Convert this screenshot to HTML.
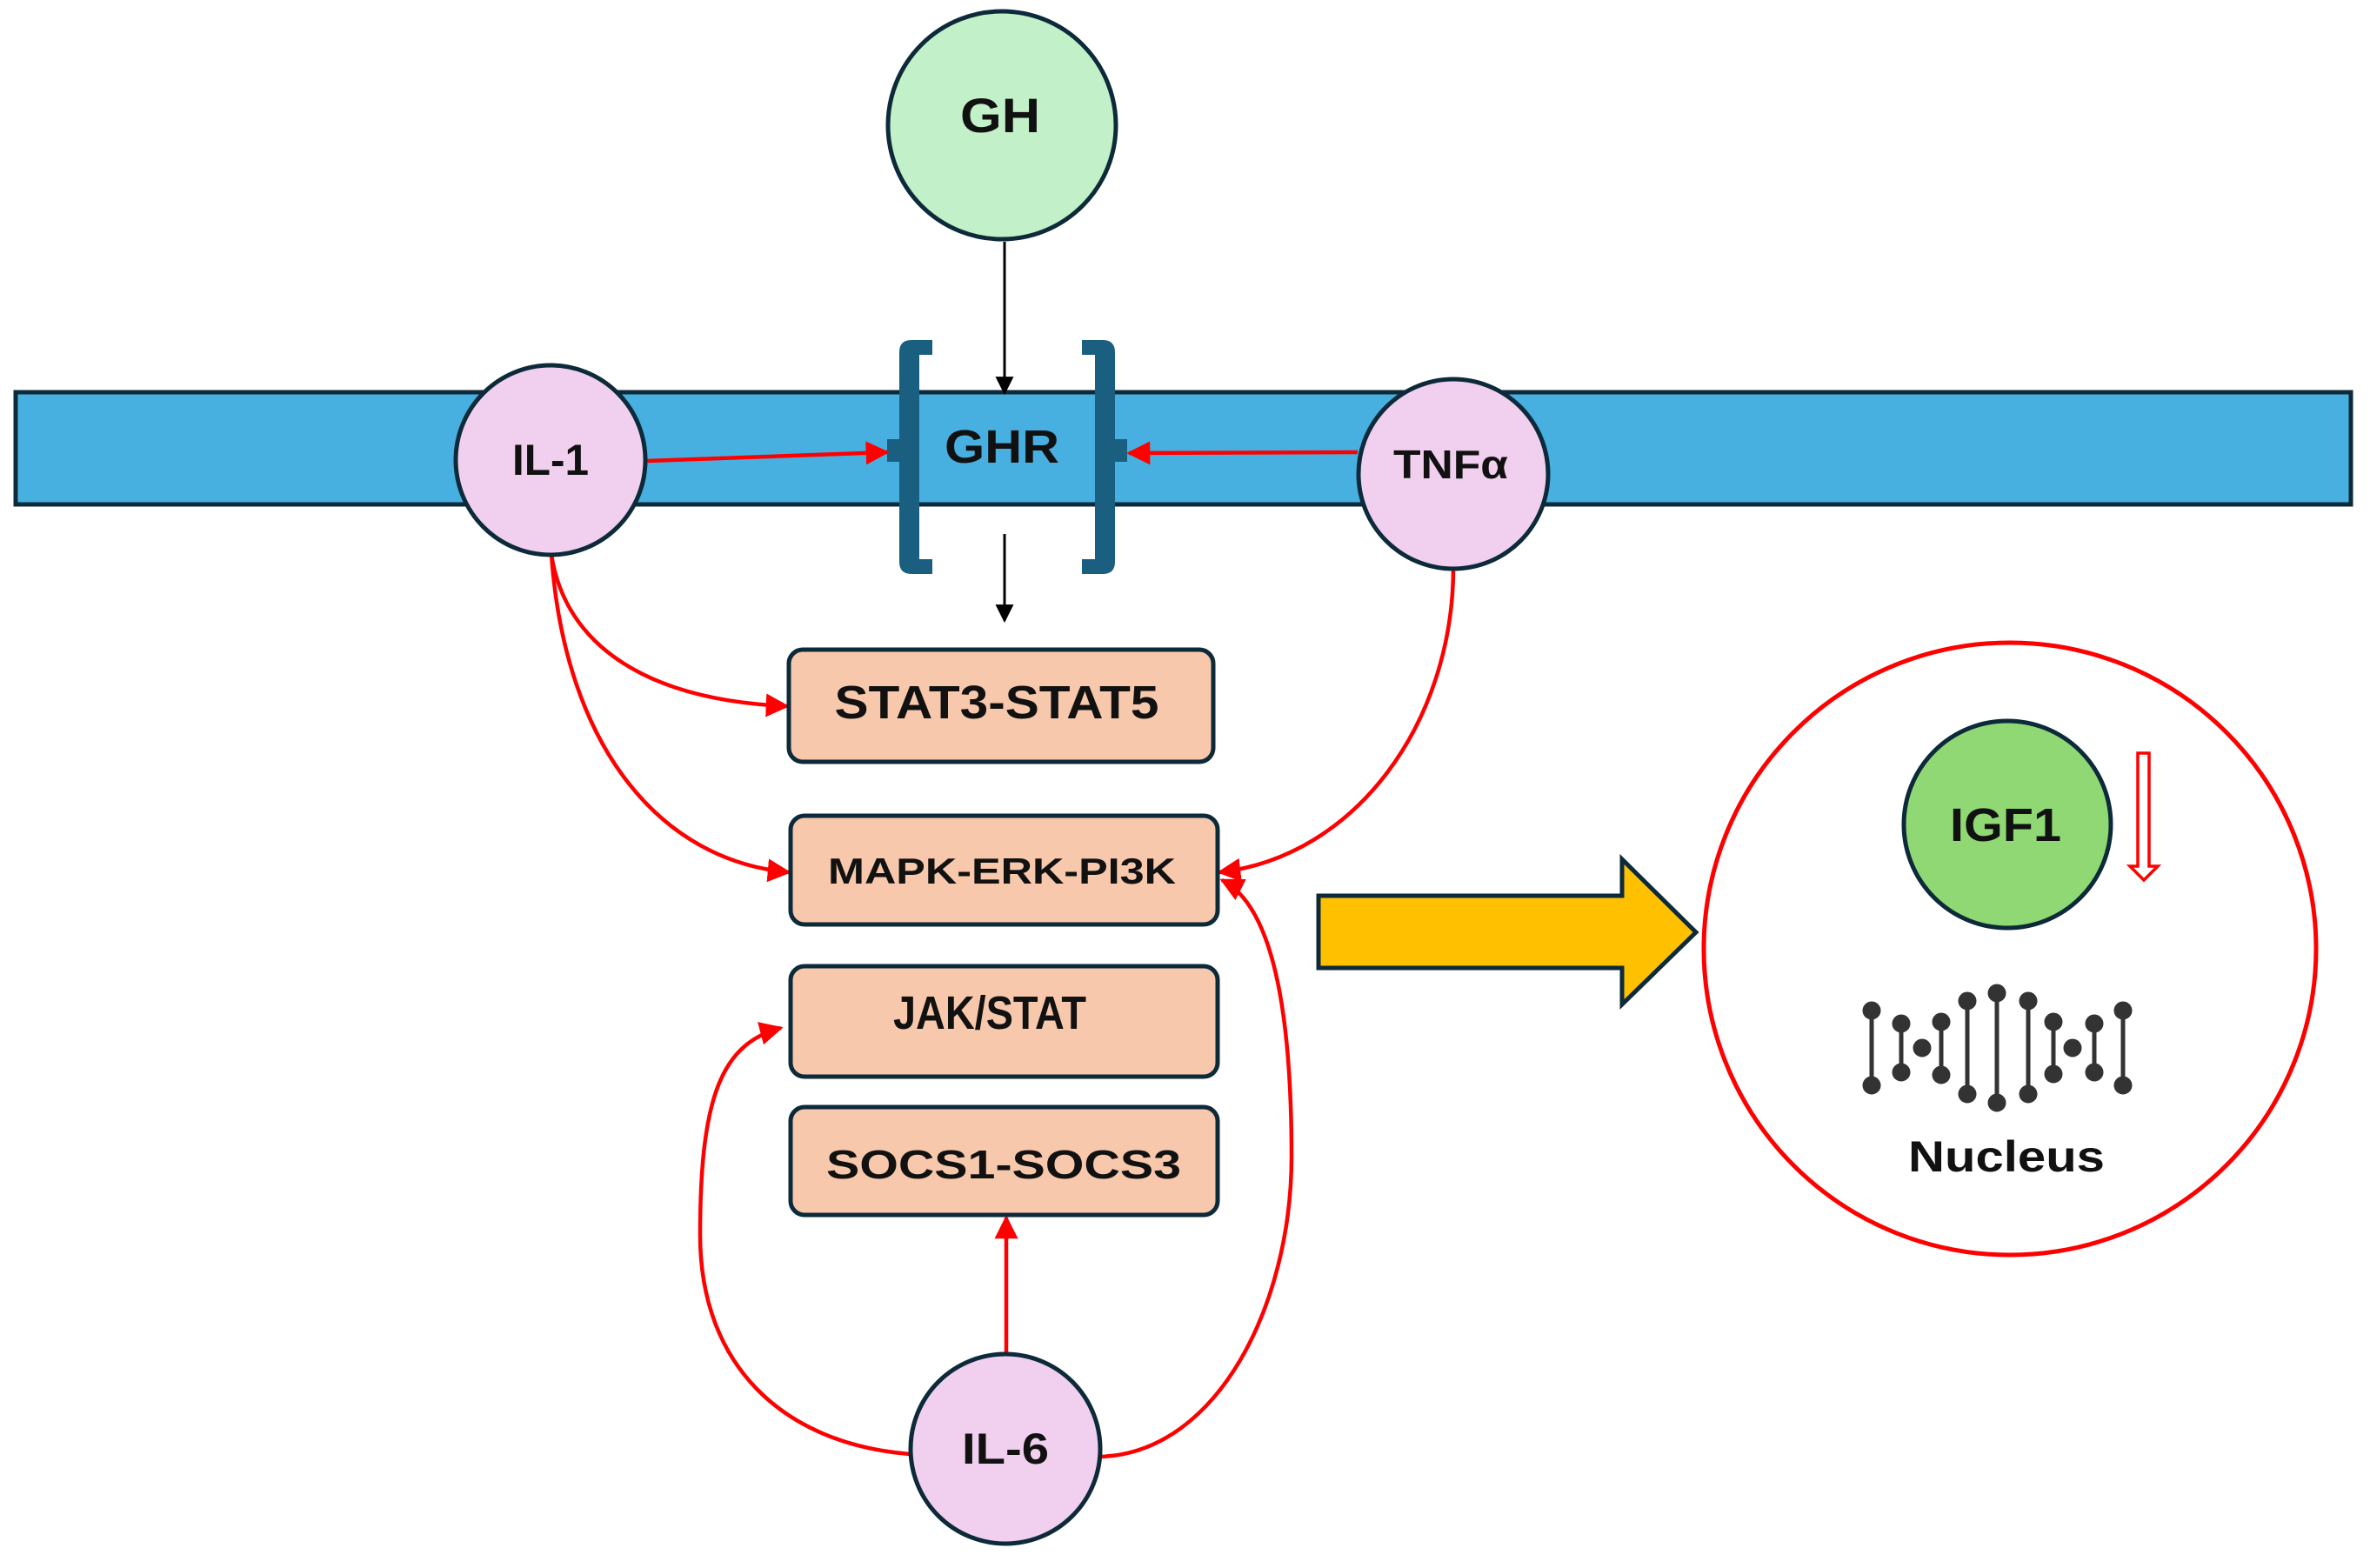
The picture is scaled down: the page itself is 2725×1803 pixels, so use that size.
<!DOCTYPE html>
<html><head><meta charset="utf-8"><style>
html,body{margin:0;padding:0;background:#fff;}
svg{display:block;}
text{font-family:"Liberation Sans",sans-serif;font-weight:bold;fill:#111;}
</style></head><body>
<svg width="2725" height="1803" viewBox="0 0 2725 1803" xmlns="http://www.w3.org/2000/svg">
<defs>
<marker id="ar" viewBox="0 0 10 10" refX="9" refY="5" markerWidth="6" markerHeight="6" orient="auto" markerUnits="strokeWidth"><path d="M0,0 L10,5 L0,10 z" fill="#f00"/></marker>
<marker id="ab" viewBox="0 0 10 10" refX="9" refY="5" markerWidth="7" markerHeight="7" orient="auto" markerUnits="strokeWidth"><path d="M0,0 L10,5 L0,10 z" fill="#000"/></marker>
</defs>
<rect x="18" y="451" width="2685" height="129" fill="#47B0E0" stroke="#0d2a3a" stroke-width="5"/>
<g fill="#1a5e80">
<path d="M1048,391 H1072 V408 H1057 V643 H1072 V660 H1048 Q1034,660 1034,646 V405 Q1034,391 1048,391 z"/>
<rect x="1020" y="505" width="16" height="26"/>
<path d="M1268,391 H1244 V408 H1259 V643 H1244 V660 H1268 Q1282,660 1282,646 V405 Q1282,391 1268,391 z"/>
<rect x="1280" y="505" width="16" height="26"/>
</g>
<text x="1152" y="532" font-size="54" text-anchor="middle" textLength="132" lengthAdjust="spacingAndGlyphs">GHR</text>
<line x1="1155" y1="278" x2="1155" y2="452" stroke="#000" stroke-width="3" marker-end="url(#ab)"/>
<circle cx="1152" cy="144" r="131" fill="#C2F0C8" stroke="#0d2a3a" stroke-width="5"/>
<text x="1150" y="152" font-size="56" text-anchor="middle" textLength="92" lengthAdjust="spacingAndGlyphs">GH</text>
<line x1="1155" y1="614" x2="1155" y2="714" stroke="#000" stroke-width="3" marker-end="url(#ab)"/>
<g fill="none" stroke="#f00" stroke-width="4.5">
<line x1="744" y1="530" x2="1020" y2="520" marker-end="url(#ar)"/>
<line x1="1561" y1="520" x2="1298" y2="521" marker-end="url(#ar)"/>
<path d="M634,638 C650,740 740,805 905,812" marker-end="url(#ar)"/>
<path d="M634,638 C650,860 760,990 907,1003" marker-end="url(#ar)"/>
<path d="M1671,655 C1670,830 1560,985 1402,1003" marker-end="url(#ar)"/>
<path d="M1046,1672 C900,1660 805,1570 805,1420 C805,1260 830,1200 898,1182" marker-end="url(#ar)"/>
<line x1="1157" y1="1555" x2="1157" y2="1400" marker-end="url(#ar)"/>
<path d="M1266,1675 C1400,1670 1485,1500 1485,1330 C1485,1150 1460,1040 1405,1012" marker-end="url(#ar)"/>
</g>
<g fill="#F7C8AC" stroke="#0d2a3a" stroke-width="5">
<rect x="907" y="747" width="488" height="129" rx="16"/>
<rect x="909" y="938" width="491" height="125" rx="16"/>
<rect x="909" y="1111" width="491" height="127" rx="16"/>
<rect x="909" y="1273" width="491" height="124" rx="16"/>
</g>
<text x="1146" y="826" font-size="54" text-anchor="middle" textLength="373" lengthAdjust="spacingAndGlyphs">STAT3-STAT5</text>
<text x="1152" y="1016" font-size="42" text-anchor="middle" textLength="400" lengthAdjust="spacingAndGlyphs">MAPK-ERK-PI3K</text>
<text x="1138" y="1183" font-size="54" text-anchor="middle" textLength="222" lengthAdjust="spacingAndGlyphs">JAK/STAT</text>
<text x="1154" y="1355" font-size="46" text-anchor="middle" textLength="408" lengthAdjust="spacingAndGlyphs">SOCS1-SOCS3</text>
<g fill="#F1CFEE" stroke="#0d2a3a" stroke-width="5">
<circle cx="633" cy="529" r="109"/>
<circle cx="1671" cy="545" r="109"/>
<circle cx="1156" cy="1666" r="109"/>
</g>
<text x="633" y="546" font-size="50" text-anchor="middle" textLength="88" lengthAdjust="spacingAndGlyphs">IL-1</text>
<text x="1668" y="550" font-size="46" text-anchor="middle" textLength="132" lengthAdjust="spacingAndGlyphs">TNFα</text>
<text x="1156" y="1683" font-size="50" text-anchor="middle" textLength="100" lengthAdjust="spacingAndGlyphs">IL-6</text>
<path d="M1516,1030 H1865 V988 L1950,1072 L1865,1155 V1113 H1516 z" fill="#FFC000" stroke="#0d2a3a" stroke-width="5"/>
<circle cx="2311" cy="1091" r="352" fill="none" stroke="#f00" stroke-width="5"/>
<circle cx="2308" cy="948" r="119" fill="#8FD873" stroke="#0d2a3a" stroke-width="5"/>
<text x="2306" y="967" font-size="54" text-anchor="middle" textLength="128" lengthAdjust="spacingAndGlyphs">IGF1</text>
<path d="M2458,866 H2471 V996 H2481 L2465,1012 L2449,996 H2458 z" fill="#fff" stroke="#f00" stroke-width="3.5"/>
<g stroke="#333" stroke-width="5" fill="#333">
<line x1="2152" y1="1162" x2="2152" y2="1248"/><circle cx="2152" cy="1162" r="8"/><circle cx="2152" cy="1248" r="8"/>
<line x1="2186" y1="1177" x2="2186" y2="1233"/><circle cx="2186" cy="1177" r="8"/><circle cx="2186" cy="1233" r="8"/>
<circle cx="2210" cy="1205" r="8"/>
<line x1="2232" y1="1175" x2="2232" y2="1236"/><circle cx="2232" cy="1175" r="8"/><circle cx="2232" cy="1236" r="8"/>
<line x1="2262" y1="1151" x2="2262" y2="1258"/><circle cx="2262" cy="1151" r="8"/><circle cx="2262" cy="1258" r="8"/>
<line x1="2296" y1="1142" x2="2296" y2="1268"/><circle cx="2296" cy="1142" r="8"/><circle cx="2296" cy="1268" r="8"/>
<line x1="2332" y1="1151" x2="2332" y2="1258"/><circle cx="2332" cy="1151" r="8"/><circle cx="2332" cy="1258" r="8"/>
<line x1="2361" y1="1175" x2="2361" y2="1235"/><circle cx="2361" cy="1175" r="8"/><circle cx="2361" cy="1235" r="8"/>
<circle cx="2383" cy="1205" r="8"/>
<line x1="2408" y1="1177" x2="2408" y2="1233"/><circle cx="2408" cy="1177" r="8"/><circle cx="2408" cy="1233" r="8"/>
<line x1="2441" y1="1162" x2="2441" y2="1248"/><circle cx="2441" cy="1162" r="8"/><circle cx="2441" cy="1248" r="8"/>
</g>
<text x="2307" y="1347" font-size="50" text-anchor="middle" textLength="226" lengthAdjust="spacingAndGlyphs">Nucleus</text>
</svg>
</body></html>
